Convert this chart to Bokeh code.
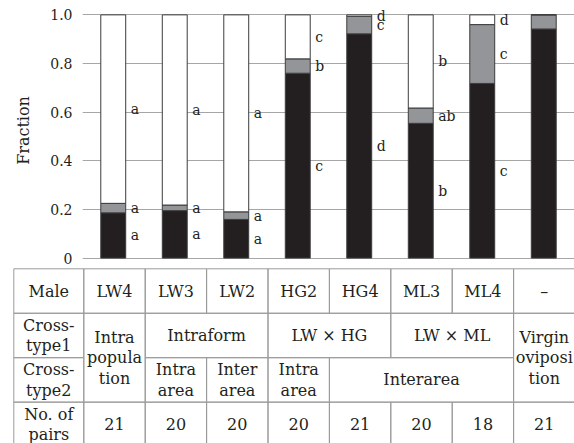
from bokeh.plotting import figure
from bokeh.models import Range1d, FixedTicker, ColumnDataSource
from bokeh.layouts import column
from bokeh.embed import file_html
from bokeh.resources import INLINE
from bokeh.core.properties import value

# ---------------- data ----------------
males = ["LW4", "LW3", "LW2", "HG2", "HG4", "ML3", "ML4", "–"]
black = [0.186, 0.195, 0.159, 0.760, 0.922, 0.554, 0.718, 0.942]
gray = [0.039, 0.023, 0.031, 0.059, 0.072, 0.063, 0.242, 0.058]
white = [0.775, 0.782, 0.810, 0.181, 0.006, 0.383, 0.040, 0.000]
let_black = ["a", "a", "a", "c", "d", "b", "c", ""]
let_gray = ["a", "a", "a", "b", "c", "ab", "c", ""]
let_white = ["a", "a", "a", "c", "d", "b", "d", ""]
n_pairs = ["21", "20", "20", "20", "21", "20", "18", "21"]
ytick_vals = [0, 0.2, 0.4, 0.6, 0.8, 1.0]
ytick_labels = ["0", "0.2", "0.4", "0.6", "0.8", "1.0"]
row_labels = ["Male", "Cross-\ntype1", "Cross-\ntype2", "No. of\npairs"]
# (text, first column, last column, first row, last row); column -1 = label column
crosstype1 = [("Intra\npopula\ntion", 0, 0, 1, 2), ("Intraform", 1, 2, 1, 1),
              ("LW × HG", 3, 4, 1, 1), ("LW × ML", 5, 6, 1, 1),
              ("Virgin\noviposi\ntion", 7, 7, 1, 2)]
crosstype2 = [("Intra\narea", 1, 1, 2, 2), ("Inter\narea", 2, 2, 2, 2),
              ("Intra\narea", 3, 3, 2, 2), ("Interarea", 4, 6, 2, 2)]

FONT = "DejaVu Serif"
TXT = "#231f20"
W = 574
H1 = 266
H2 = 443 - H1

# ---------------- chart ----------------
xs = list(range(len(males)))
b0 = [0.0] * len(xs)
b1 = [b + g for b, g in zip(black, gray)]
b2 = [b + w for b, w in zip(b1, white)]

p = figure(width=W, height=H1, x_range=Range1d(-0.5, 7.5), y_range=Range1d(-0.01, 1.059),
           output_backend="svg", toolbar_location=None, x_axis_location=None,
           min_border_left=82, min_border_right=0, min_border_top=0, min_border_bottom=6)
p.frame_align = False
p.outline_line_color = None
p.xgrid.visible = False
p.ygrid.grid_line_color = "#a6a6a6"
p.ygrid.grid_line_width = 1
p.yaxis.ticker = FixedTicker(ticks=ytick_vals)
p.yaxis.major_label_overrides = {v: l for v, l in zip(ytick_vals, ytick_labels)}
p.yaxis.axis_line_color = None
p.yaxis.major_tick_line_color = None
p.yaxis.minor_tick_line_color = None
p.yaxis.major_tick_out = 0
p.yaxis.major_tick_in = 0
p.yaxis.minor_tick_out = 0
p.yaxis.major_label_standoff = 10
p.yaxis.major_label_text_font = FONT
p.yaxis.major_label_text_font_size = "14px"
p.yaxis.major_label_text_color = TXT
p.yaxis.axis_label = "Fraction"
p.yaxis.axis_label_text_font = FONT
p.yaxis.axis_label_text_font_size = "16px"
p.yaxis.axis_label_text_font_style = "normal"
p.yaxis.axis_label_text_color = TXT
p.yaxis.axis_label_standoff = 14

BW = 0.405
edge = "#3c3c3c"
p.vbar(x=xs, bottom=b0, top=black, width=BW, fill_color="#231f20", line_color=edge, line_width=1)
p.vbar(x=xs, bottom=black, top=b1, width=BW, fill_color="#939598", line_color=edge, line_width=1)
p.vbar(x=xs, bottom=b1, top=b2, width=BW, fill_color="#ffffff", line_color=edge, line_width=1)

lx, ly, lt = [], [], []
for i in xs:
    for lo, hi, t in ((b0[i], black[i], let_black[i]), (black[i], b1[i], let_gray[i]),
                      (b1[i], b2[i], let_white[i])):
        if t:
            lx.append(i + BW / 2)
            ly.append((lo + hi) / 2)
            lt.append(t)
p.text(x=lx, y=ly, text=lt, x_offset=5, text_align="left", text_baseline="middle",
       text_font=value(FONT), text_font_size="14px", text_color=TXT)

# ---------------- table ----------------
ROW = 44.45     # px per table row
COL = 61.4      # px per table column
X0 = 114.0      # page x of the first data column centre
TOP = 268.3     # page y of the table's top line
t = figure(width=W, height=H2, x_range=Range1d(-X0 / COL, (W - X0) / COL),
           y_range=Range1d((443 - TOP) / ROW, (H1 - TOP) / ROW),
           output_backend="svg", toolbar_location=None, x_axis_location=None, y_axis_location=None,
           min_border_left=0, min_border_right=0, min_border_top=0, min_border_bottom=0)
t.frame_align = False
t.outline_line_color = None
t.xgrid.visible = False
t.ygrid.visible = False

LABEL_LEFT = (13.3 - X0) / COL

cells = []
for r, lab in enumerate(row_labels):
    cells.append((lab, -1, -1, r, r))
for c, m in enumerate(males):
    cells.append((m, c, c, 0, 0))
cells += crosstype1 + crosstype2
for c, n in enumerate(n_pairs):
    cells.append((n, c, c, 3, 3))

left, right, top, bottom, cx, cy, txt = [], [], [], [], [], [], []
for text, c0, c1, r0, r1 in cells:
    l = LABEL_LEFT if c0 < 0 else c0 - 0.5
    rr = -0.5 if c1 < 0 else c1 + 0.5
    left.append(l); right.append(rr); top.append(r0); bottom.append(r1 + 1)
    cx.append((l + rr) / 2); cy.append((r0 + r1 + 1) / 2); txt.append(text)

src = ColumnDataSource(dict(left=left, right=right, top=top, bottom=bottom, cx=cx, cy=cy, txt=txt))
t.quad(left="left", right="right", top="top", bottom="bottom", source=src,
       fill_color=None, line_color="#9a9a9a", line_width=1)
t.text(x="cx", y="cy", text="txt", source=src, text_align="center", text_baseline="middle",
       text_font=value(FONT), text_font_size="16px", text_color=TXT, text_line_height=1.08)

layout = column(p, t, spacing=0)
open("out.html", "w").write(file_html(layout, INLINE))
